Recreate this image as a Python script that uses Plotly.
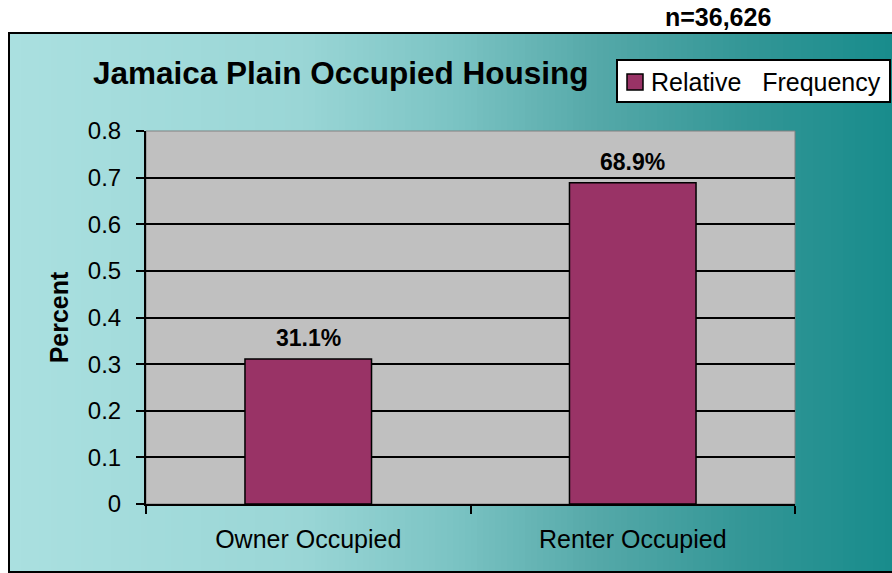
import plotly.graph_objects as go

# data
categories = ["Owner Occupied", "Renter Occupied"]
values = [0.311, 0.689]
labels = ["31.1%", "68.9%"]
series_name = "Relative\u00a0\u00a0\u00a0Frequency"
sample_note = "n=36,626"

W, H = 892, 573
L, R, T, B = 146, 795, 131, 504  # plot area in pixels
FONT = "Arial, Liberation Sans, sans-serif"


def px_x(p):
    return (p - L) / (R - L)


def px_y(p):
    return (B - p) / (B - T)


def mix(c1, c2, t):
    return "#%02x%02x%02x" % tuple(round(a + (b - a) * t) for a, b in zip(c1, c2))


# horizontal gradient stops for the background (pixel x, rgb)
stops = [(9, (170, 224, 224)), (300, (154, 214, 214)), (450, (124, 196, 196)),
         (600, (84, 168, 168)), (750, (50, 150, 150)), (892, (24, 140, 140))]

shapes = []
step = 6
x0 = 9
while x0 < W:
    x1 = min(x0 + step, W + 1)
    xc = (x0 + x1) / 2
    for (a, ca), (b, cb) in zip(stops, stops[1:]):
        if a <= xc <= b:
            col = mix(ca, cb, (xc - a) / (b - a))
            break
    else:
        col = "#%02x%02x%02x" % stops[-1][1]
    shapes.append(dict(type="rect", xref="paper", yref="paper",
                       x0=px_x(x0), x1=px_x(x1 + 0.5), y0=px_y(572), y1=px_y(33),
                       fillcolor=col, line=dict(width=0), layer="below"))
    x0 = x1

# plot area (gray, top/right edge in darker gray)
shapes.append(dict(type="rect", xref="paper", yref="paper",
                   x0=0, x1=1, y0=0, y1=1,
                   line=dict(color="#808080", width=1), fillcolor="#c0c0c0", layer="below"))
# outer border
shapes.append(dict(type="rect", xref="paper", yref="paper",
                   x0=px_x(9), x1=px_x(895), y0=px_y(572), y1=px_y(33),
                   line=dict(color="black", width=2), fillcolor="rgba(0,0,0,0)", layer="above"))
# legend box
shapes.append(dict(type="rect", xref="paper", yref="paper",
                   x0=px_x(617), x1=px_x(890), y0=px_y(102), y1=px_y(60),
                   line=dict(color="black", width=2), fillcolor="white", layer="above"))
shapes.append(dict(type="rect", xref="paper", yref="paper",
                   x0=px_x(627), x1=px_x(643), y0=px_y(90), y1=px_y(74),
                   line=dict(color="black", width=1.5), fillcolor="#993366", layer="above"))

fig = go.Figure()
fig.add_trace(go.Bar(
    x=categories, y=values, name=series_name,
    marker=dict(color="#993366", line=dict(color="black", width=1.5)),
    showlegend=False, hoverinfo="skip",
))

annotations = [
    dict(text="Jamaica Plain Occupied Housing", xref="paper", yref="paper",
         x=px_x(91), y=px_y(73), xanchor="left", yanchor="middle", showarrow=False,
         font=dict(family=FONT, size=31.5, color="black", weight="bold")),
    dict(text=sample_note, xref="paper", yref="paper",
         x=px_x(718), y=px_y(17), xanchor="center", yanchor="middle", showarrow=False,
         font=dict(family=FONT, size=25, color="black", weight="bold")),
    dict(text=series_name, xref="paper", yref="paper",
         x=px_x(649), y=px_y(82), xanchor="left", yanchor="middle", showarrow=False,
         font=dict(family=FONT, size=25, color="black")),
]
# value labels above the bars
for cat, val, lab in zip(categories, values, labels):
    annotations.append(dict(text=lab, x=cat, y=val, xref="x", yref="y",
                            yanchor="bottom", yshift=6, showarrow=False,
                            font=dict(family=FONT, size=23, color="black", weight="bold")))

fig.update_layout(
    width=W, height=H,
    margin=dict(l=L, r=W - R, t=T, b=H - B),
    paper_bgcolor="white", plot_bgcolor="#c0c0c0",
    font=dict(family=FONT, color="black"),
    bargap=0.61,
    shapes=shapes,
    showlegend=False,
    annotations=annotations,
)

fig.update_yaxes(range=[0, 0.8], dtick=0.1, tick0=0,
                 showgrid=True, gridcolor="black", gridwidth=1.6,
                 showline=True, linecolor="black", linewidth=2,
                 ticks="outside", ticklen=8, tickcolor="black", tickwidth=1.5,
                 ticklabelstandoff=10,
                 tickfont=dict(family=FONT, size=24, color="black"),
                 zeroline=False,
                 title=dict(text="Percent", standoff=12,
                            font=dict(family=FONT, size=25, color="black", weight="bold")))
fig.update_xaxes(showline=True, linecolor="black", linewidth=2,
                 ticks="outside", tickson="boundaries", ticklen=8, tickcolor="black", tickwidth=1.5,
                 ticklabelstandoff=12,
                 tickfont=dict(family=FONT, size=25, color="black"))

fig.write_html("out.html", config={"displayModeBar": False},
               post_script="document.body.style.margin='0';")
